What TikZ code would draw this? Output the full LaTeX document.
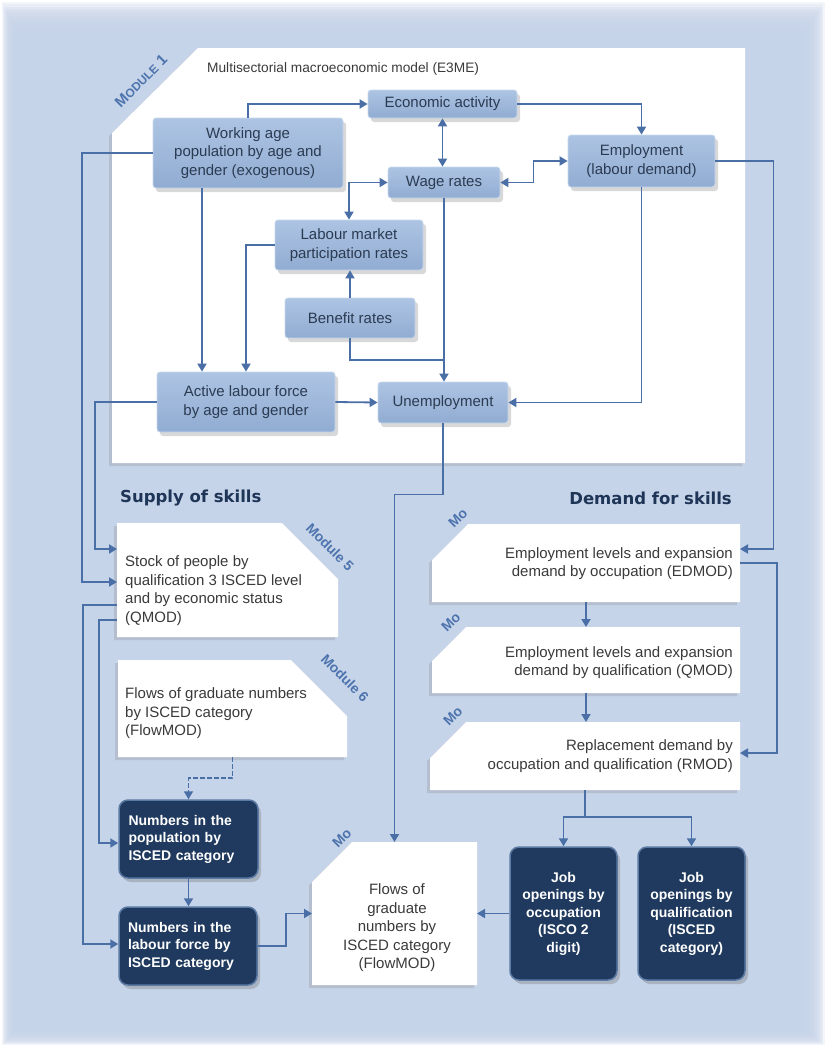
\documentclass[tikz,border=0pt]{standalone}
\usepackage{fontspec}
\setmainfont{Liberation Sans}
\newfontfamily\headfont{DejaVu Sans}
\usetikzlibrary{arrows.meta,shadows,backgrounds}
\definecolor{panel}{HTML}{C6D4E9}
\definecolor{lbA}{HTML}{ADC4E3}
\definecolor{lbB}{HTML}{91ACD2}
\definecolor{lbE}{HTML}{C9D8EC}
\definecolor{lbT}{HTML}{2B3B52}
\definecolor{navy}{HTML}{1F3A5E}
\definecolor{navyE}{HTML}{5A7AA3}
\definecolor{lineC}{HTML}{4A6FA6}
\definecolor{modC}{HTML}{4E74AE}
\definecolor{txtC}{HTML}{3A3A3A}
\definecolor{headC}{HTML}{1E3557}
\begin{document}
\begin{tikzpicture}[x=1pt,y=-1pt,
  lbox/.style={rectangle, rounded corners=3pt, top color=lbA, bottom color=lbB, draw=lbE, line width=0.8pt,
    drop shadow={shadow xshift=3pt,shadow yshift=-4pt,opacity=0.3,fill=black!50},
    font=\fontsize{15}{18.5}\selectfont, text=lbT, align=center, inner sep=0pt},
  nbox/.style={rectangle, rounded corners=9pt, fill=navy, draw=navyE, line width=1.5pt,
    drop shadow={shadow xshift=3pt,shadow yshift=-4pt,opacity=0.3,fill=black!60},
    font=\bfseries\fontsize{14}{17.5}\selectfont, text=white, inner sep=0pt},
  bnd/.style={rectangle, draw=none, inner sep=0pt, outer sep=0pt},
  wtxt/.style={font=\fontsize{15}{18.5}\selectfont, text=txtC, inner sep=0pt},
  head/.style={font=\headfont\bfseries\fontsize{16.5}{18}\selectfont, text=headC, inner sep=0pt},
  modl/.style={font=\bfseries\fontsize{14}{14}\selectfont, text=modC, inner sep=0pt},
  arr/.style={draw=lineC, line width=1.8pt, -{Triangle[length=8pt,width=9pt]}},
  arrb/.style={draw=lineC, line width=1.8pt, {Triangle[length=8pt,width=9pt]}-{Triangle[length=8pt,width=9pt]}},
  ln/.style={draw=lineC, line width=1.8pt},
  wshadow/.style={drop shadow={shadow xshift=-3pt,shadow yshift=-3pt,opacity=0.25,fill=black!50}}
]
\useasboundingbox (0,0) rectangle (827,1047);
\begin{pgfonlayer}{background}
\fill[white] (0,0) rectangle (827,1047);
\foreach \i in {0,...,19}{
  \fill[panel, opacity=0.22] (2+\i, 2+2.25*\i) rectangle (825-1.6*\i, 1045-1.1*\i);
}
\fill[white, wshadow] (198,48) -- (745,48) -- (745,463) -- (112,463) -- (112,133) -- cycle;
\end{pgfonlayer}

% title and labels
\node[font=\fontsize{13.7}{16}\selectfont, text=txtC, anchor=west, inner sep=0pt] (title) at (207,69) {Multisectorial macroeconomic model (E3ME)};
\node[modl, rotate=45, font=\bfseries\fontsize{15}{15}\selectfont] (m1) at (141,81) {M{\fontsize{12}{12}\selectfont ODULE} 1};

% module 1 nodes
\node[lbox, minimum width=149pt, minimum height=28pt] (econ) at (442.5,104) {Economic activity};
\node[lbox, minimum width=190pt, minimum height=70pt] (wap) at (248,153) {Working age\\population by age and\\gender (exogenous)};
\node[lbox, minimum width=112pt, minimum height=31pt] (wage) at (444,182.5) {Wage rates};
\node[lbox, minimum width=147pt, minimum height=52pt] (emp) at (641.5,161) {Employment\\(labour demand)};
\node[lbox, minimum width=148pt, minimum height=50pt] (lmpr) at (349,245) {Labour market\\participation rates};
\node[lbox, minimum width=130pt, minimum height=40pt] (ben) at (350,318) {Benefit rates};
\node[lbox, minimum width=178pt, minimum height=60pt] (alf) at (246,402) {Active labour force\\by age and gender};
\node[lbox, minimum width=130pt, minimum height=41pt] (unemp) at (443,402.5) {Unemployment};

% headings
\node[head, anchor=west] (sup) at (120,498) {Supply of skills};
\node[head, anchor=east] (dem) at (732,498) {Demand for skills};

% white module boxes (bounds)
\node[bnd, minimum width=221pt, minimum height=114pt] (st) at (227.5,580) {};
\node[bnd, minimum width=229pt, minimum height=97pt] (f6) at (232.5,708.5) {};
\node[bnd, minimum width=308pt, minimum height=78pt] (ed) at (586,563) {};
\node[bnd, minimum width=308pt, minimum height=66pt] (qm) at (586,660) {};
\node[bnd, minimum width=310pt, minimum height=68pt] (rm) at (585,756) {};
\node[bnd, minimum width=165pt, minimum height=143pt] (fm) at (394.5,913.5) {};

\begin{pgfonlayer}{background}
\fill[white, wshadow] (st.south west) -- (st.north west) -- ([xshift=-56pt]st.north east) -- ([yshift=-56pt]st.north east) -- (st.south east) -- cycle;
\fill[white, wshadow] (f6.south west) -- (f6.north west) -- ([xshift=-56pt]f6.north east) -- ([yshift=-56pt]f6.north east) -- (f6.south east) -- cycle;
\fill[white, wshadow] (ed.north east) -- ([xshift=36pt]ed.north west) -- ([yshift=-36pt]ed.north west) -- (ed.south west) -- (ed.south east) -- cycle;
\fill[white, wshadow] (qm.north east) -- ([xshift=34pt]qm.north west) -- ([yshift=-34pt]qm.north west) -- (qm.south west) -- (qm.south east) -- cycle;
\fill[white, wshadow] (rm.north east) -- ([xshift=36pt]rm.north west) -- ([yshift=-36pt]rm.north west) -- (rm.south west) -- (rm.south east) -- cycle;
\fill[white, wshadow] (fm.north east) -- ([xshift=40pt]fm.north west) -- ([yshift=-40pt]fm.north west) -- (fm.south west) -- (fm.south east) -- cycle;
\end{pgfonlayer}

% texts of white boxes
\node[wtxt, anchor=west, align=left] (stT) at (125,590.5) {Stock of people by\\qualification 3 ISCED level\\and by economic status\\(QMOD)};
\node[wtxt, anchor=west, align=left] (f6T) at (125,713.5) {Flows of graduate numbers\\by ISCED category\\(FlowMOD)};
\node[wtxt, anchor=east, align=right] (edT) at (733,563.5) {Employment levels and expansion\\demand by occupation (EDMOD)};
\node[wtxt, anchor=east, align=right] (qmT) at (733,662.5) {Employment levels and expansion\\demand by qualification (QMOD)};
\node[wtxt, anchor=east, align=right] (rmT) at (733,756) {Replacement demand by\\occupation and qualification (RMOD)};
\node[wtxt, align=center] (fmT) at (397,928) {Flows of\\graduate\\numbers by\\ISCED category\\(FlowMOD)};

% module labels
\node[modl, rotate=-45] (m5) at (330,547) {Module 5};
\node[modl, rotate=-45] (m6) at (345,678) {Module 6};
\node[modl, rotate=45] (mo1) at (458,518) {Mo};
\node[modl, rotate=45] (mo2) at (451,622) {Mo};
\node[modl, rotate=45] (mo3) at (453,716) {Mo};
\node[modl, rotate=45] (mo4) at (342,838) {Mo};

% navy boxes
\node[nbox, minimum width=139pt, minimum height=78pt, text width=120pt, align=left] (pop) at (188.5,839) {Numbers in the\\population by\\ISCED category};
\node[nbox, minimum width=138pt, minimum height=78pt, text width=120pt, align=left] (lab) at (188,946) {Numbers in the\\labour force by\\ISCED category};
\node[nbox, minimum width=107pt, minimum height=133pt, align=center] (jocc) at (563.5,913.5) {Job\\openings by\\occupation\\(ISCO 2\\digit)};
\node[nbox, minimum width=107pt, minimum height=133pt, align=center] (jqual) at (691.5,913.5) {Job\\openings by\\qualification\\(ISCED\\category)};

% connectors module 1
\draw[arr] (wap.north) |- (econ.west);
\draw[arr] (econ.east) -| (emp.north);
\draw[arrb] (econ.south) -- (econ.south |- wage.north);
\draw[arrb] (wage.east) -- ++(33,0) |- (emp.west);
\draw[arrb] (wage.west) -| (lmpr.north);
\draw[arr] (ben.north) -- (ben.north |- lmpr.south);
\draw[arr] (lmpr.west) -| (alf.north);
\draw[arr] ([xshift=-46pt]wap.south) -- ([xshift=-46pt]wap.south |- alf.north);
\draw[arr] (wage.south) -- (wage.south |- unemp.north);
\coordinate (j1) at (444,360);
\draw[ln] (ben.south) |- (j1);
\draw[arr] (alf.east) -- (unemp.west);
\draw[arr] (emp.south) |- (unemp.east);

% to demand side
\draw[arr] (emp.east) -- ++(58,0) |- ([yshift=14pt]ed.east);
\draw[arr] (ed.east) -- ++(37,0) |- ([yshift=3pt]rm.east);
\draw[arr] (ed.south) -- (qm.north);
\draw[arr] (qm.south) -- (qm.south |- rm.north);
\coordinate (j2) at (585,817);
\draw[ln, line width=2.4pt] (rm.south) -- (j2);
\draw[arr] (j2) -| (jocc.north);
\draw[arr] (j2) -| (jqual.north);
\draw[arr] (jocc.west) -- (fm.east);

% to supply side
\draw[arr] (unemp.south) -- ++(0,71) -| (fm.north);
\draw[arr] (lab.east) -- ++(28,0) |- (fm.west);
\draw[arr] (pop.south) -- (pop.south |- lab.north);
\draw[arr, dash pattern=on 5pt off 2pt] (f6.south) -- ++(0,21) -| (pop.north);
\draw[arr] (wap.west) -- ++(-71,0) |- ([yshift=-2pt]st.west);
\draw[arr] (alf.west) -- ++(-62,0) |- ([yshift=31pt]st.west);
\draw[arr] ([yshift=-25pt]st.west) -- ++(-34,0) |- ([yshift=2pt]lab.west);
\draw[arr] ([yshift=-40pt]st.west) -- ++(-18,0) |- ([yshift=-4pt]pop.west);
\end{tikzpicture}
\end{document}
